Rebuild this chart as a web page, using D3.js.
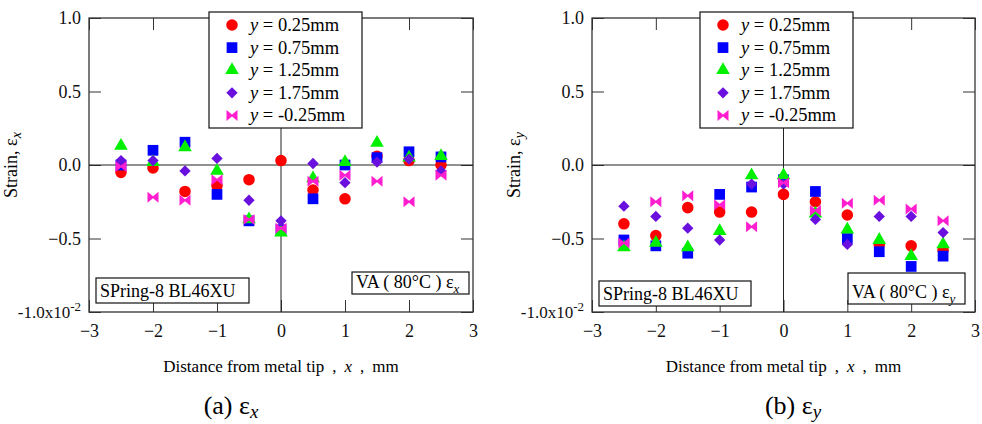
<!DOCTYPE html>
<html>
<head>
<meta charset="utf-8">
<script src="https://cdn.jsdelivr.net/npm/d3@7"></script>
<style>
  body { margin: 0; background: #fff; }
</style>
</head>
<body>
<div id="chart"></div>
<script>
// distance from metal tip (mm)
var distances = [-2.5, -2, -1.5, -1, -0.5, 0, 0.5, 1, 1.5, 2, 2.5];
var seriesLabels = ["0.25mm", "0.75mm", "1.25mm", "1.75mm", "-0.25mm"];
var xTicks = [-3, -2, -1, 0, 1, 2, 3];
var yTicks = [-1, -0.5, 0, 0.5, 1];

// strain eps_x (x10^-2)
var exY025 = [-0.05, -0.02, -0.18, -0.14, -0.10, 0.03, -0.17, -0.23, 0.06, 0.03, 0.00];
var exY075 = [0.00, 0.10, 0.155, -0.20, -0.38, -0.44, -0.23, 0.00, 0.05, 0.09, 0.055];
var exY125 = [0.13, 0.02, 0.12, -0.04, -0.37, -0.46, -0.09, 0.02, 0.15, 0.05, 0.06];
var exY175 = [0.03, 0.03, -0.04, 0.045, -0.24, -0.38, 0.01, -0.12, 0.02, 0.04, -0.04];
var exYm025 = [-0.01, -0.22, -0.24, -0.10, -0.37, -0.43, -0.11, -0.07, -0.11, -0.25, -0.07];

// strain eps_y (x10^-2)
var eyY025 = [-0.40, -0.48, -0.29, -0.32, -0.32, -0.20, -0.25, -0.34, -0.54, -0.55, -0.58];
var eyY075 = [-0.51, -0.55, -0.60, -0.20, -0.15, -0.10, -0.18, -0.50, -0.59, -0.69, -0.62];
var eyY125 = [-0.56, -0.53, -0.56, -0.45, -0.07, -0.07, -0.33, -0.44, -0.51, -0.62, -0.54];
var eyY175 = [-0.28, -0.35, -0.43, -0.51, -0.13, -0.13, -0.37, -0.54, -0.35, -0.35, -0.46];
var eyYm025 = [-0.53, -0.25, -0.21, -0.27, -0.42, -0.12, -0.31, -0.26, -0.24, -0.30, -0.38];

var colors = ["#ff0000", "#0000ff", "#00f000", "#6a10de", "#ff1ecf"];

var svg = d3.select("#chart").append("svg")
    .attr("width", 982)
    .attr("height", 424);

// marker shapes, same order as the series
var bowtie = "M-5.5,-5.5L0,-1L5.5,-5.5L5.5,5.5L0,1L-5.5,5.5Z";
function markerPath(i) {
  if (i == 0) return d3.symbol(d3.symbolCircle, 105)();
  if (i == 1) return d3.symbol(d3.symbolSquare, 115)();
  if (i == 2) return d3.symbol(d3.symbolTriangle, 80)();
  if (i == 3) return d3.symbol(d3.symbolSquare, 64)();
  return bowtie;
}
function markerRotate(i) { return i == 3 ? " rotate(45)" : ""; }

function drawPanel(opt) {
  var width = opt.width, height = 294;
  var g = svg.append("g")
      .attr("transform", "translate(" + opt.left + "," + 18 + ")");

  var x = d3.scaleLinear().domain([-3, 3]).range([0, width]);
  var y = d3.scaleLinear().domain([-1, 1]).range([height, 0]);

  // inward ticks on all four sides
  g.append("g").attr("transform", "translate(0," + height + ")")
      .call(d3.axisBottom(x).tickValues(xTicks).tickSizeInner(-12).tickSizeOuter(0).tickPadding(12)
        .tickFormat(d3.format("d")));
  g.append("g")
      .call(d3.axisTop(x).tickValues(xTicks).tickSizeInner(-12).tickSizeOuter(0).tickFormat(""));
  var left = g.append("g")
      .call(d3.axisLeft(y).tickValues(yTicks).tickSizeInner(-12).tickSizeOuter(0).tickPadding(8)
        .tickFormat(d3.format(".1f")));
  g.append("g").attr("transform", "translate(" + width + ",0)")
      .call(d3.axisRight(y).tickValues(yTicks).tickSizeInner(-12).tickSizeOuter(0).tickFormat(""));

  g.selectAll(".domain").remove();
  g.selectAll(".tick line").attr("stroke", "#333");
  g.selectAll(".tick text").attr("font-size", 18).attr("fill", "#111");

  // the -1.0 label is written with its exponent
  left.selectAll(".tick text").filter(function(d) { return d == -1; })
      .text(null)
      .attr("font-size", 17)
      .call(function(t) {
        t.append("tspan").text("-1.0x10");
        t.append("tspan").attr("dy", -7).attr("font-size", 13).text("-2");
      });

  // frame
  g.append("rect")
      .attr("width", width).attr("height", height)
      .attr("fill", "none").attr("stroke", "#333").attr("stroke-width", 1.3);

  // zero lines
  g.append("line").attr("x1", 0).attr("x2", width).attr("y1", y(0)).attr("y2", y(0))
      .attr("stroke", "#222");
  g.append("line").attr("x1", x(0)).attr("x2", x(0)).attr("y1", 0).attr("y2", height)
      .attr("stroke", "#222");

  // points
  opt.series.forEach(function(values, i) {
    g.selectAll(".pt" + i)
      .data(values)
      .enter()
      .append("path")
      .attr("d", markerPath(i))
      .attr("transform", function(d, j) {
        return "translate(" + x(distances[j]) + "," + y(d) + ")" + markerRotate(i);
      })
      .attr("fill", colors[i]);
  });

  // legend
  var lg = g.append("g").attr("transform", "translate(" + opt.legendX + "," + (-6) + ")");
  lg.append("rect").attr("width", 153).attr("height", 116)
      .attr("fill", "#fff").attr("stroke", "#111").attr("stroke-width", 1.2);
  seriesLabels.forEach(function(lab, i) {
    var yy = 13 + i * 22.6;
    lg.append("path").attr("d", markerPath(i))
      .attr("transform", "translate(23," + yy + ")" + markerRotate(i))
      .attr("fill", colors[i]);
    var t = lg.append("text").attr("x", 41).attr("y", yy + 6).attr("font-size", 18.5);
    t.append("tspan").attr("font-style", "italic").text("y");
    t.append("tspan").text(" = " + lab);
  });

  // text boxes
  function box(bx, by, bw, bh, fill) {
    var b = g.append("g").attr("transform", "translate(" + bx + "," + by + ")");
    b.append("rect").attr("width", bw).attr("height", bh)
      .attr("fill", "#fff").attr("stroke", "#111").attr("stroke-width", 1.2);
    var t = b.append("text").attr("x", 4).attr("y", bh - 6).attr("font-size", 18);
    fill(t);
  }
  box(opt.springBox[0], opt.springBox[1], opt.springBox[2], 25, function(t) {
    t.text("SPring-8 BL46XU");
  });
  box(opt.vaBox[0], opt.vaBox[1], opt.vaBox[2], opt.vaBox[3], function(t) {
    t.append("tspan").text("VA ( 80°C ) ε");
    t.append("tspan").attr("dy", 5).attr("font-size", 13).attr("font-style", "italic").text(opt.sub);
  });

  // y label
  var yl = g.append("text")
      .attr("transform", "translate(" + (opt.yLabelX) + "," + y(0) + ") rotate(-90)")
      .attr("text-anchor", "middle").attr("font-size", 18);
  yl.append("tspan").text("Strain, ε");
  yl.append("tspan").attr("dy", 4).attr("font-size", 14).attr("font-style", "italic").text(opt.sub);

  // x label, with the wide gaps round the commas
  var xl = g.append("text").attr("x", x(0)).attr("y", height + 60)
      .attr("text-anchor", "middle").attr("font-size", 17);
  xl.append("tspan").text("Distance from metal tip");
  xl.append("tspan").attr("dx", 8).text(",");
  xl.append("tspan").attr("dx", 8).attr("font-style", "italic").text("x");
  xl.append("tspan").attr("dx", 8).text(",");
  xl.append("tspan").attr("dx", 8).text("mm");

  // caption
  var cap = g.append("text").attr("x", opt.captionX).attr("y", height + 102)
      .attr("text-anchor", "middle").attr("font-size", 26);
  cap.append("tspan").text("(" + opt.letter + ") ε");
  cap.append("tspan").attr("dy", 4).attr("font-size", 19).attr("font-style", "italic").text(opt.sub);
}

drawPanel({
  left: 89, width: 384, legendX: 120, sub: "x", letter: "a",
  series: [exY025, exY075, exY125, exY175, exYm025],
  springBox: [7, 260, 153], vaBox: [263, 254, 117, 22], yLabelX: -72, captionX: 142
});
drawPanel({
  left: 592, width: 383, legendX: 108, sub: "y", letter: "b",
  series: [eyY025, eyY075, eyY125, eyY175, eyYm025],
  springBox: [7, 263, 152], vaBox: [256, 255, 117, 31], yLabelX: -72, captionX: 201
});

// serif face on every text, set as a plain attribute
svg.selectAll("text").attr("font-family", "Liberation Serif");
</script>
</body>
</html>
